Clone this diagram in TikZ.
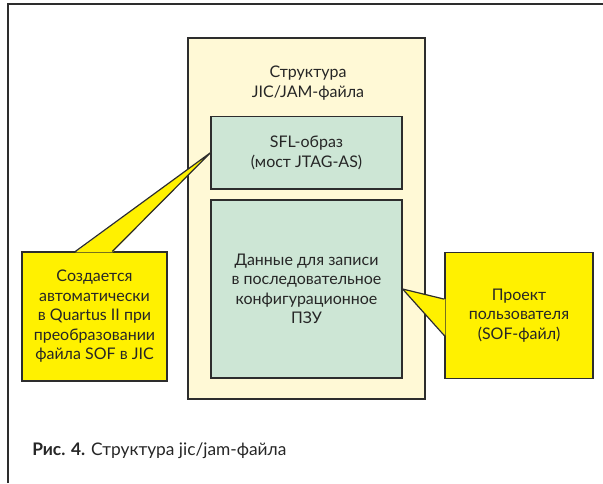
\documentclass[tikz,border=0pt]{standalone}
\usepackage{fontspec}
\setmainfont{Lato}
\usetikzlibrary{calc}
\definecolor{cream}{RGB}{255,249,214}
\definecolor{mint}{RGB}{205,230,213}
\definecolor{lemon}{RGB}{255,241,0}
\definecolor{edge}{RGB}{45,45,45}

\begin{document}
\begin{tikzpicture}[x=0.75pt, y=-0.75pt,
        every node/.style={align=center, inner sep=0pt, text=black!85,
            font=\fontsize{12}{14.6}\selectfont},
        box/.style={rectangle, draw=edge, line width=0.9pt},
        note/.style={box, fill=lemon},
        tail/.style={draw=edge, line width=0.9pt}]
        \useasboundingbox (0,0) rectangle (603,483);

        % Frame
        \draw[edge, line width=1pt] (8,483) -- (8,4) -- (603,4);

        % File structure
        \node[box, fill=cream, minimum width=177.75pt, minimum height=270.75pt] (jic) at (306.5,218.5) {};
        \node (title) at (308,83) {Структура\\JIC/JAM-файла};
        \node[box, fill=mint, minimum width=143.25pt, minimum height=54.4pt] (sfl) at (306.5,152.75)
            {SFL-образ\\(мост JTAG-AS)};
        \node[box, fill=mint, minimum width=143.25pt, minimum height=133.5pt] (data) at (306.5,289)
            {Данные для записи\\в последовательное\\конфигурационное\\ПЗУ};

        % Left note
        \node[note, minimum width=108.75pt, minimum height=96.75pt] (lnote) at (94.5,316.5)
            {Создается\\автоматически\\в Quartus II при\\преобразовании\\файла SOF в JIC};
        \fill[lemon] ($(lnote.north west)+(54,1)$) -- (sfl.west) -- ($(lnote.north west)+(91,1)$) -- cycle;
        \draw[tail] ($(lnote.north west)+(54,0)$) -- (sfl.west) -- ($(lnote.north west)+(91,0)$);

        % Right note
        \node[note, minimum width=111pt, minimum height=94.5pt] (rnote) at (519,315.25)
            {Проект\\пользователя\\(SOF-файл)};
        \fill[lemon] ($(rnote.north west)+(1,47.5)$) -- (data.east) -- ($(rnote.north west)+(1,84)$) -- cycle;
        \draw[tail] ($(rnote.north west)+(0,47.5)$) -- (data.east) -- ($(rnote.north west)+(0,84)$);

        % Caption
        \node[anchor=west, font=\fontsize{13}{15}\selectfont] (caption) at (32,451)
            {\textbf{Рис. 4.} Структура jic/jam-файла};
    \end{tikzpicture}
\end{document}
